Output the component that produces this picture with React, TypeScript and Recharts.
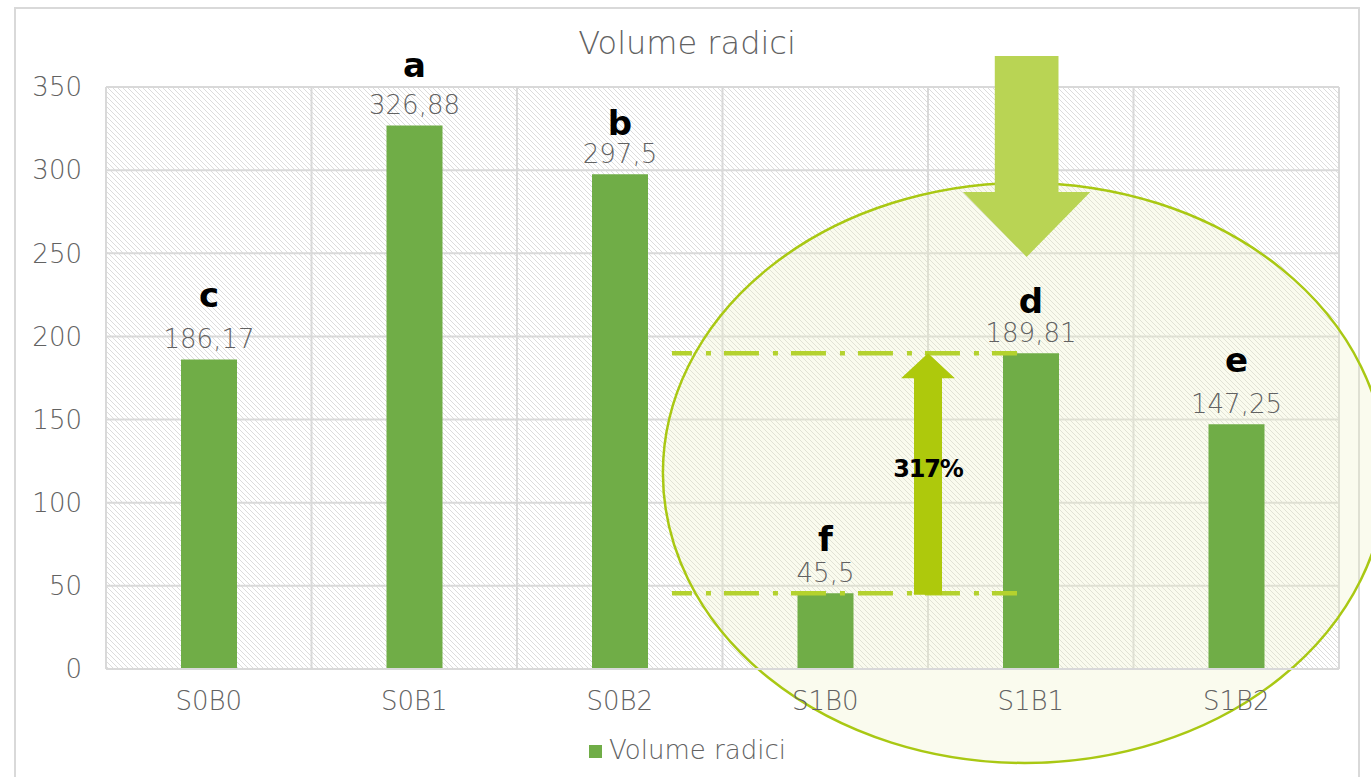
import React from 'react';
import {
  BarChart,
  Bar,
  XAxis,
  YAxis,
  CartesianGrid,
  LabelList,
  Legend,
  ReferenceArea,
  ReferenceLine,
} from 'recharts';

// ---------- data ----------
const categories = ['S0B0', 'S0B1', 'S0B2', 'S1B0', 'S1B1', 'S1B2'];
const volumes = [186.17, 326.88, 297.5, 45.5, 189.81, 147.25];
const letters = ['c', 'a', 'b', 'f', 'd', 'e'];
const yTicks = [0, 50, 100, 150, 200, 250, 300, 350];
const seriesName = 'Volume radici';
const titleText = 'Volume radici';
const increaseLabel = '317%';

const data = categories.map((c, i) => ({ cat: c, value: volumes[i], letter: letters[i] }));

// ---------- annotation placement (x in category units: category i spans [i, i+1]; y in data units) ----------
const ellipseBox = { u1: 2.71, u2: 6.23, y1: -56.5, y2: 292.3 };
const downArrowBox = { u1: 4.17, u2: 4.79, y1: 247.8, y2: 368.6 };
const upArrowSpan = { u1: 3.869, u2: 4.131 };
const dashSpan = { u1: 2.754, u2: 4.433 };
// distance (px) of the significance letter baseline above each bar top
const letterOffsets = [52, 48, 39, 42, 40, 52];

const FONT = '"DejaVu Sans", "Noto Sans", sans-serif';
const GRAY = '#626262';
const GRID = '#d9d9d9';

const W = 1371;
const H = 777;

// convert category units to pixels inside a ReferenceArea spanning all categories
const ux = (p: any, u: number) => p.x + (u * p.width) / categories.length;

const EllipseShape = (p: any) => {
  const x1 = ux(p, ellipseBox.u1);
  const x2 = ux(p, ellipseBox.u2);
  return (
    <ellipse
      cx={(x1 + x2) / 2}
      cy={p.y + p.height / 2}
      rx={(x2 - x1) / 2}
      ry={p.height / 2}
      fill="#eef2c8"
      fillOpacity={0.3}
      stroke="#a9c813"
      strokeWidth={2.5}
    />
  );
};

const DownArrow = (p: any) => {
  const x = ux(p, downArrowBox.u1);
  const w = ux(p, downArrowBox.u2) - x;
  const { y, height: h } = p;
  const sw = w * 0.5;
  const hh = h * 0.323;
  const cx = x + w / 2;
  const pts = [
    [cx - sw / 2, y],
    [cx + sw / 2, y],
    [cx + sw / 2, y + h - hh],
    [x + w, y + h - hh],
    [cx, y + h],
    [x, y + h - hh],
    [cx - sw / 2, y + h - hh],
  ]
    .map((q) => q.join(','))
    .join(' ');
  return <polygon points={pts} fill="#b9d454" />;
};

// segment runs from the centre of the first category (at S1B0's value) to the
// centre of the last category (at S1B1's value)
const ChangeShape = (p: any) => {
  const n = categories.length;
  const step = (p.x2 - p.x1) / (n - 1);
  const toX = (u: number) => p.x1 + (u - 0.5) * step;
  const bottom = p.y1;
  const top = p.y2;
  const lx1 = toX(dashSpan.u1);
  const lx2 = toX(dashSpan.u2);
  const ax = toX(upArrowSpan.u1);
  const aw = toX(upArrowSpan.u2) - ax;
  const acx = ax + aw / 2;
  const sw = aw * 0.52;
  const ah = bottom + 1.5 - top;
  const hh = ah * 0.103;
  const pts = [
    [acx, top],
    [ax + aw, top + hh],
    [acx + sw / 2, top + hh],
    [acx + sw / 2, bottom + 1.5],
    [acx - sw / 2, bottom + 1.5],
    [acx - sw / 2, top + hh],
    [ax, top + hh],
  ]
    .map((q) => q.join(','))
    .join(' ');
  const dash = {
    stroke: '#b4d22e',
    strokeWidth: 4.5,
    strokeDasharray: '35 14 5 13',
    strokeDashoffset: 15,
  };
  return (
    <g>
      <line x1={lx1} x2={lx2} y1={top} y2={top} {...dash} />
      <line x1={lx1} x2={lx2} y1={bottom} y2={bottom} {...dash} />
      <polygon points={pts} fill="#aec90c" />
      <text
        x={acx}
        y={(top + bottom) / 2 + 4}
        textAnchor="middle"
        fontFamily={FONT}
        fontSize={24}
        fontWeight={700}
        letterSpacing={-1.2}
        fill="#000"
      >
        {increaseLabel}
      </text>
    </g>
  );
};

const LetterLabel = (props: any) => {
  const vb = props.viewBox || props;
  const x = vb.x ?? props.x;
  const y = vb.y ?? props.y;
  const width = vb.width ?? props.width;
  const idx = letters.indexOf(String(props.value));
  const off = letterOffsets[idx] ?? 48;
  return (
    <text
      x={x + width / 2}
      y={y - off}
      textAnchor="middle"
      fontFamily={FONT}
      fontSize={34}
      fontWeight={700}
      fill="#000"
    >
      {props.value}
    </text>
  );
};

export default function App() {
  return (
    <div
      style={{
        position: 'absolute',
        left: 0,
        top: 0,
        width: W,
        height: H,
        overflow: 'hidden',
        background: '#fff',
        fontFamily: FONT,
      }}
    >
      <svg width={0} height={0} style={{ position: 'absolute' }}>
        <defs>
          <pattern id="hatch" patternUnits="userSpaceOnUse" width={5} height={5}>
            <rect width={5} height={5} fill="#ffffff" />
            <path d="M0,0 L5,5 M-1,4 L1,6 M4,-1 L6,1" stroke="#dcdcdc" strokeWidth={1} />
          </pattern>
        </defs>
      </svg>
      <div
        style={{
          position: 'absolute',
          left: 14,
          top: 7,
          width: 1346,
          height: 800,
          border: `2px solid ${GRID}`,
          boxSizing: 'border-box',
        }}
      />
      <div
        style={{
          position: 'absolute',
          left: 14,
          width: 1346,
          top: 24,
          textAlign: 'center',
          fontSize: 32,
          fontWeight: 300,
          color: GRAY,
          lineHeight: 'normal',
        }}
      >
        {titleText}
      </div>
      <div style={{ position: 'absolute', left: 0, top: 0 }}>
        <BarChart
          width={W}
          height={H}
          data={data}
          margin={{ top: 87, right: 32, bottom: 48, left: 46 }}
          barCategoryGap={0}
        >
          <CartesianGrid
            stroke={GRID}
            strokeWidth={2}
            fill="url(#hatch)"
            fillOpacity={1}
            verticalCoordinatesGenerator={({ offset }: any) =>
              [0, 1, 2, 3, 4, 5, 6].map((i) => offset.left + (i * offset.width) / 6)
            }
          />
          <XAxis
            dataKey="cat"
            height={60}
            tickLine={false}
            tickSize={0}
            tickMargin={23}
            axisLine={{ stroke: GRID, strokeWidth: 2 }}
            tick={{ fill: GRAY, fontSize: 26, fontFamily: FONT, fontWeight: 300 }}
          />
          <YAxis
            width={60}
            domain={[0, 350]}
            ticks={yTicks}
            axisLine={false}
            tickLine={false}
            tickSize={0}
            tickMargin={24}
            tick={{ fill: GRAY, fontSize: 26, fontFamily: FONT, fontWeight: 300 }}
          />
          <ReferenceArea
            x1={categories[0]}
            x2={categories[categories.length - 1]}
            y1={ellipseBox.y1}
            y2={ellipseBox.y2}
            ifOverflow="visible"
            shape={EllipseShape}
          />
          <Bar
            dataKey="value"
            name={seriesName}
            fill="#70ad47"
            barSize={56}
            isAnimationActive={false}
          >
            <LabelList
              dataKey="value"
              position="top"
              offset={11}
              formatter={(v: any) => String(v).replace('.', ',')}
              style={{ fill: GRAY, fontSize: 26, fontFamily: FONT, fontWeight: 300 }}
            />
            <LabelList dataKey="letter" content={LetterLabel} />
          </Bar>
          <ReferenceArea
            x1={categories[0]}
            x2={categories[categories.length - 1]}
            y1={downArrowBox.y1}
            y2={downArrowBox.y2}
            ifOverflow="visible"
            shape={DownArrow}
          />
          <ReferenceLine
            segment={[
              { x: categories[0], y: volumes[3] },
              { x: categories[categories.length - 1], y: volumes[4] },
            ]}
            ifOverflow="visible"
            shape={ChangeShape}
          />
          <Legend
            layout="horizontal"
            verticalAlign="middle"
            align="center"
            iconType="square"
            iconSize={13}
            wrapperStyle={{
              top: 735,
              fontFamily: FONT,
              fontSize: 26,
              fontWeight: 300,
              lineHeight: 'normal',
            }}
            formatter={(v: any) => <span style={{ color: GRAY, marginLeft: 3 }}>{v}</span>}
          />
        </BarChart>
      </div>
    </div>
  );
}
